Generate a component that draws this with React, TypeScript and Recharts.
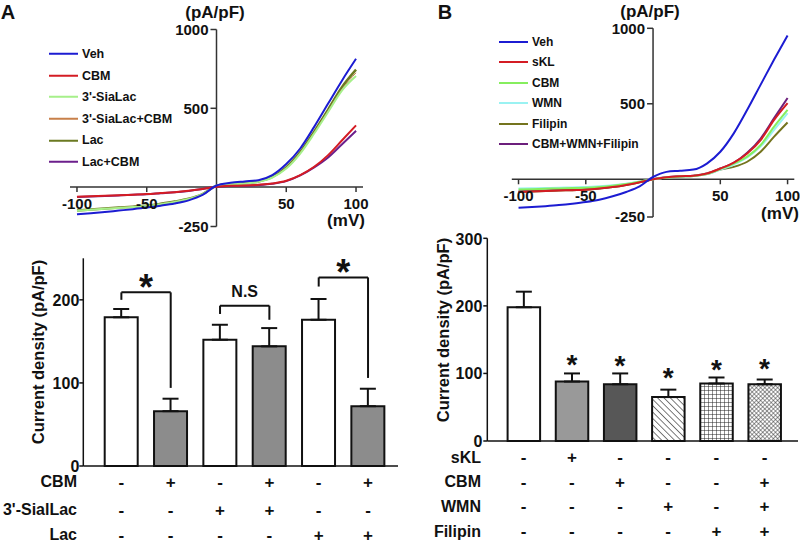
import React from 'react';
import { LineChart, Line, XAxis, YAxis, ReferenceLine, ReferenceDot, ComposedChart, Bar, ErrorBar, Cell } from 'recharts';

const FONT = '"Liberation Sans", Arial, sans-serif';

// membrane potential steps (mV)
const volts = [-100, -90, -80, -70, -60, -50, -40, -30, -20, -10, 0, 10, 20, 30, 40, 50, 60, 70, 80, 90, 100];

// panel A traces (pA/pF)
const aVeh = [-173, -166, -158, -149, -140, -130, -118, -104, -84, -50, 10, 27, 36, 44, 76, 146, 245, 382, 530, 677, 814];
const aCbm = [-61, -58, -55, -52, -48, -44, -38, -32, -23, -12, 2, 8, 10, 15, 23, 40, 76, 129, 203, 297, 392];
const aSia = [-150, -144, -138, -132, -126, -120, -108, -94, -76, -45, 8, 20, 23, 34, 61, 118, 213, 340, 477, 614, 705];
const aSiaCbm = [-148, -142, -136, -130, -124, -118, -107, -93, -75, -44, 8, 21, 24, 35, 63, 122, 218, 346, 484, 622, 725];
const aLac = [-148, -142, -136, -130, -124, -118, -106, -92, -74, -44, 8, 21, 25, 36, 65, 125, 222, 352, 492, 635, 745];
const aLacCbm = [-63, -60, -57, -53, -49, -45, -39, -33, -24, -12, 2, 7, 9, 13, 21, 38, 74, 125, 188, 272, 357];

// panel B traces (pA/pF)
const bVeh = [-189, -184, -178, -171, -162, -151, -136, -113, -84, -47, 15, 49, 56, 64, 104, 182, 304, 460, 627, 793, 953];
const bSkl = [-84, -81, -78, -75, -72, -69, -62, -52, -38, -20, 0, 13, 20, 24, 38, 71, 110, 171, 260, 393, 504];
const bCbm = [-68, -66, -63, -61, -58, -56, -51, -43, -32, -16, 0, 12, 18, 22, 36, 68, 104, 150, 227, 349, 460];
const bWmn = [-62, -60, -58, -56, -54, -52, -47, -40, -30, -15, 0, 12, 18, 22, 34, 64, 98, 145, 218, 327, 438];
const bFil = [-84, -81, -78, -75, -72, -69, -62, -52, -38, -20, 0, 12, 18, 22, 34, 64, 82, 116, 182, 282, 376];
const bTriple = [-80, -77, -74, -71, -68, -65, -59, -49, -36, -19, 0, 13, 20, 24, 38, 71, 108, 175, 270, 405, 538];

const ivXTicks = [-100, -50, 50, 100];
const ivYTicks = [1000, 500, -250];

// bar panel A
const aIds = ['a1', 'a2', 'a3', 'a4', 'a5', 'a6'];
const aMeans = [179, 66, 152, 144, 176, 72];
const aErrs = [10, 15, 18, 22, 25, 21];
const aRowNames = ['CBM', "3'-SialLac", 'Lac'];
const aRows = [
  ['-', '+', '-', '+', '-', '+'],
  ['-', '-', '+', '+', '-', '-'],
  ['-', '-', '-', '-', '+', '+'],
];

// bar panel B
const bIds = ['b1', 'b2', 'b3', 'b4', 'b5', 'b6'];
const bMeans = [198, 88, 84, 65, 85, 84];
const bErrs = [23, 12, 16, 11, 9, 7];
const bStars = [null, 114, 113, 95, 106, 108];
const bRowNames = ['sKL', 'CBM', 'WMN', 'Filipin'];
const bRows = [
  ['-', '+', '-', '-', '-', '-'],
  ['-', '-', '+', '-', '-', '+'],
  ['-', '-', '-', '+', '-', '+'],
  ['-', '-', '-', '-', '+', '+'],
];

type Trace = { name: string; color: string; width: number; values: number[] };

const aTraces: Trace[] = [
  { name: 'Veh', color: '#1c1cd2', width: 2, values: aVeh },
  { name: 'CBM', color: '#d41c24', width: 2, values: aCbm },
  { name: "3'-SiaLac", color: '#a6f08a', width: 2, values: aSia },
  { name: "3'-SiaLac+CBM", color: '#c8804a', width: 1, values: aSiaCbm },
  { name: 'Lac', color: '#6b7a22', width: 2.5, values: aLac },
  { name: 'Lac+CBM', color: '#6c1f8c', width: 2, values: aLacCbm },
];

const bTraces: Trace[] = [
  { name: 'Veh', color: '#1c1cd2', width: 2, values: bVeh },
  { name: 'sKL', color: '#d41c24', width: 2, values: bSkl },
  { name: 'CBM', color: '#86ee5e', width: 2, values: bCbm },
  { name: 'WMN', color: '#9af2f2', width: 2, values: bWmn },
  { name: 'Filipin', color: '#74741e', width: 2, values: bFil },
  { name: 'CBM+WMN+Filipin', color: '#6c1f7c', width: 2, values: bTriple },
];

const Txt = ({ x, y, size, anchor = 'middle', rotate = false, children }: any) => {
  const tx = anchor === 'end' ? '-100%' : anchor === 'start' ? '0' : '-50%';
  return (
    <div
      style={{
        position: 'absolute', left: x, top: y, fontSize: size, fontWeight: 'bold', lineHeight: 1,
        whiteSpace: 'nowrap', color: '#111',
        transform: `translate(${tx}, -50%)${rotate ? ' rotate(-90deg)' : ''}`,
      }}
    >
      {children}
    </div>
  );
};

const IVPanel = ({ traces, left, width, height, margin, legend }: any) => {
  const data = volts.map((v, i) => {
    const row: any = { v };
    traces.forEach((t: Trace, k: number) => { row['s' + k] = t.values[i]; });
    return row;
  });
  const plotW = width - margin.left - margin.right;
  const plotH = height - margin.top - margin.bottom;
  const tickMv = 6 / (plotW / 210);
  const tickPa = 5 / (plotH / 1250);
  const lab = { fontSize: 15, fontWeight: 'bold', fill: '#111', fontFamily: FONT };
  const order = traces.map((_: any, k: number) => k).reverse();
  return (
    <div style={{ position: 'absolute', left, top: 0, width, height }}>
      <LineChart width={width} height={height} data={data} margin={margin}>
        <XAxis type="number" dataKey="v" domain={[-105, 105]} allowDataOverflow hide />
        <YAxis type="number" domain={[-250, 1000]} allowDataOverflow hide />
        <ReferenceLine y={0} stroke="#333" strokeWidth={1.5} />
        <ReferenceLine x={0} stroke="#333" strokeWidth={1.5} />
        {ivYTicks.map((t) => (
          <ReferenceLine key={'y' + t} segment={[{ x: -tickMv, y: t }, { x: 0, y: t }]} stroke="#333" strokeWidth={1.5}
            label={{ value: String(t), position: 'left', offset: 2, ...lab }} />
        ))}
        {ivXTicks.map((t) => (
          <ReferenceLine key={'x' + t} segment={[{ x: t, y: 0 }, { x: t, y: -tickPa }]} stroke="#333" strokeWidth={1.5}
            label={{ value: String(t), position: 'bottom', offset: 6, ...lab }} />
        ))}
        {order.map((k: number) => (
          <Line key={k} type="monotone" dataKey={'s' + k} stroke={traces[k].color} strokeWidth={traces[k].width}
            dot={false} isAnimationActive={false} />
        ))}
      </LineChart>
      {traces.map((t: Trace, k: number) => (
        <div key={k} style={{ position: 'absolute', left: legend.x, top: legend.y + k * legend.gap, display: 'flex', alignItems: 'center', transform: 'translateY(-50%)' }}>
          <div style={{ width: 29, height: 0, borderTop: `${Math.max(t.width, 2)}px solid ${t.color}` }} />
          <span style={{ marginLeft: 4, fontSize: legend.size, fontWeight: 'bold', color: '#111', lineHeight: 1 }}>{t.name}</span>
        </div>
      ))}
    </div>
  );
};

const RowTick = ({ x, y, payload, ids, rows, offsets }: any) => {
  const i = ids.indexOf(payload.value);
  return (
    <g>
      {rows.map((r: string[], k: number) => (
        <text key={k} x={x} y={y + offsets[k]} textAnchor="middle" dominantBaseline="central"
          fontSize={17} fontWeight="bold" fontFamily={FONT} fill="#111">{r[i]}</text>
      ))}
    </g>
  );
};

const aTable = aIds.map((id, i) => ({ id, mean: aMeans[i], err: [0, aErrs[i]] }));
const bTable = bIds.map((id, i) => ({ id, mean: bMeans[i], err: [0, bErrs[i]] }));
const aFills = ['#ffffff', '#8c8c8c', '#ffffff', '#8c8c8c', '#ffffff', '#8c8c8c'];
const bFills = ['#ffffff', '#999999', '#575757', 'url(#hatch)', 'url(#grid)', 'url(#cross)'];

const tickStyle = { fontSize: 16, fontWeight: 'bold', fill: '#111', fontFamily: FONT };

export default function App() {
  const bracket = { stroke: '#111', strokeWidth: 2 };
  return (
    <div style={{ position: 'absolute', left: 0, top: 0, width: 800, height: 543, background: '#fff', overflow: 'hidden', fontFamily: FONT }}>
      <IVPanel traces={aTraces} left={0} width={400} height={240}
        margin={{ top: 29.5, right: 37, bottom: 13.5, left: 70 }}
        legend={{ x: 49, y: 54, gap: 21.6, size: 12.5 }} />
      <IVPanel traces={bTraces} left={400} width={400} height={240}
        margin={{ top: 28.3, right: 5.7, bottom: 23, left: 111.8 }}
        legend={{ x: 99, y: 41.7, gap: 20.5, size: 12 }} />

      <Txt x={8} y={12} size={20}>A</Txt>
      <Txt x={445} y={12} size={20}>B</Txt>
      <Txt x={215} y={12} size={17}>(pA/pF)</Txt>
      <Txt x={650} y={11} size={17}>(pA/pF)</Txt>
      <Txt x={346} y={220} size={17}>(mV)</Txt>
      <Txt x={780} y={213} size={17}>(mV)</Txt>

      {/* panel A bars */}
      <div style={{ position: 'absolute', left: 0, top: 240, width: 400, height: 303 }}>
        <ComposedChart width={400} height={303} data={aTable} margin={{ top: 18.3, right: 2, bottom: 0, left: 3 }}>
          <XAxis dataKey="id" height={77} padding={{ left: 13.4, right: 5.3 }} axisLine={{ stroke: '#111', strokeWidth: 1.5 }}
            tickLine={false} tickSize={0} tickMargin={0} interval={0}
            tick={(p: any) => <RowTick {...p} ids={aIds} rows={aRows} offsets={[16.3, 44, 69]} />} />
          <YAxis width={80.3} domain={[0, 250]} ticks={[0, 100, 200]} tick={tickStyle} tickSize={4} tickMargin={0}
            axisLine={{ stroke: '#111', strokeWidth: 1.5 }} tickLine={{ stroke: '#111', strokeWidth: 1.5 }} />
          <Bar dataKey="mean" barSize={33} stroke="#111" strokeWidth={2} isAnimationActive={false}>
            {aTable.map((d, i) => <Cell key={d.id} fill={aFills[i]} />)}
            <ErrorBar dataKey="err" width={8} stroke="#111" strokeWidth={2} direction="y" />
          </Bar>
          <ReferenceLine segment={[{ x: 'a1', y: 200 }, { x: 'a1', y: 209 }]} {...bracket} />
          <ReferenceLine segment={[{ x: 'a1', y: 209 }, { x: 'a2', y: 209 }]} {...bracket}
            label={{ value: '*', position: 'top', offset: -8, fontSize: 36, fontWeight: 'bold', fill: '#111', fontFamily: FONT }} />
          <ReferenceLine segment={[{ x: 'a2', y: 209 }, { x: 'a2', y: 94 }]} {...bracket} />
          <ReferenceLine segment={[{ x: 'a3', y: 183 }, { x: 'a3', y: 193 }]} {...bracket} />
          <ReferenceLine segment={[{ x: 'a3', y: 193 }, { x: 'a4', y: 193 }]} {...bracket}
            label={{ value: 'N.S', position: 'top', offset: 9, fontSize: 16, fontWeight: 'bold', fill: '#111', fontFamily: FONT }} />
          <ReferenceLine segment={[{ x: 'a4', y: 193 }, { x: 'a4', y: 176 }]} {...bracket} />
          <ReferenceLine segment={[{ x: 'a5', y: 216 }, { x: 'a5', y: 227 }]} {...bracket} />
          <ReferenceLine segment={[{ x: 'a5', y: 227 }, { x: 'a6', y: 227 }]} {...bracket}
            label={{ value: '*', position: 'top', offset: -8, fontSize: 36, fontWeight: 'bold', fill: '#111', fontFamily: FONT }} />
          <ReferenceLine segment={[{ x: 'a6', y: 227 }, { x: 'a6', y: 106 }]} {...bracket} />
        </ComposedChart>
      </div>
      <Txt x={38} y={352} size={16.5} rotate>Current density (pA/pF)</Txt>
      {aRowNames.map((n, k) => (
        <Txt key={n} x={77} y={[482.3, 510, 535][k]} size={16} anchor="end">{n}</Txt>
      ))}

      {/* panel B bars */}
      <div style={{ position: 'absolute', left: 400, top: 230, width: 400, height: 313 }}>
        <ComposedChart width={400} height={313} data={bTable} margin={{ top: 8.3, right: 2, bottom: 0, left: 0 }}>
          <defs>
            <pattern id="hatch" width="4.5" height="4.5" patternUnits="userSpaceOnUse" patternTransform="rotate(-45)">
              <rect width="4.5" height="4.5" fill="#fff" />
              <line x1="0" y1="0" x2="0" y2="4.5" stroke="#222" strokeWidth="1.2" />
            </pattern>
            <pattern id="grid" width="4" height="4" patternUnits="userSpaceOnUse">
              <rect width="4" height="4" fill="#fff" />
              <path d="M0 0 H4 M0 0 V4" stroke="#222" strokeWidth="1" fill="none" />
            </pattern>
            <pattern id="cross" width="3" height="3" patternUnits="userSpaceOnUse" patternTransform="rotate(45)">
              <rect width="3" height="3" fill="#fff" />
              <path d="M0 0 H3 M0 0 V3" stroke="#333" strokeWidth="1" fill="none" />
            </pattern>
          </defs>
          <XAxis dataKey="id" height={102} padding={{ left: 12.3, right: 9.4 }} axisLine={{ stroke: '#111', strokeWidth: 1.5 }}
            tickLine={false} tickSize={0} tickMargin={0} interval={0}
            tick={(p: any) => <RowTick {...p} ids={bIds} rows={bRows} offsets={[16.7, 41.3, 65.7, 90.7]} />} />
          <YAxis width={87.3} domain={[0, 300]} ticks={[0, 100, 200, 300]} tick={tickStyle} tickSize={4} tickMargin={1}
            axisLine={{ stroke: '#111', strokeWidth: 1.5 }} tickLine={{ stroke: '#111', strokeWidth: 1.5 }} />
          <Bar dataKey="mean" barSize={32.5} stroke="#111" strokeWidth={2} isAnimationActive={false}>
            {bTable.map((d, i) => <Cell key={d.id} fill={bFills[i]} />)}
            <ErrorBar dataKey="err" width={8} stroke="#111" strokeWidth={2} direction="y" />
          </Bar>
          {bIds.map((id, i) => bStars[i] == null ? null : (
            <ReferenceDot key={id} x={id} y={bStars[i] as number} r={0} fill="none" stroke="none"
              label={{ value: '*', position: 'center', fontSize: 28, fontWeight: 'bold', fill: '#111', fontFamily: FONT }} />
          ))}
        </ComposedChart>
      </div>
      <Txt x={443} y={330} size={16.5} rotate>Current density (pA/pF)</Txt>
      {bRowNames.map((n, k) => (
        <Txt key={n} x={481} y={[457.7, 482.3, 506.7, 531.7][k]} size={16} anchor="end">{n}</Txt>
      ))}
    </div>
  );
}
